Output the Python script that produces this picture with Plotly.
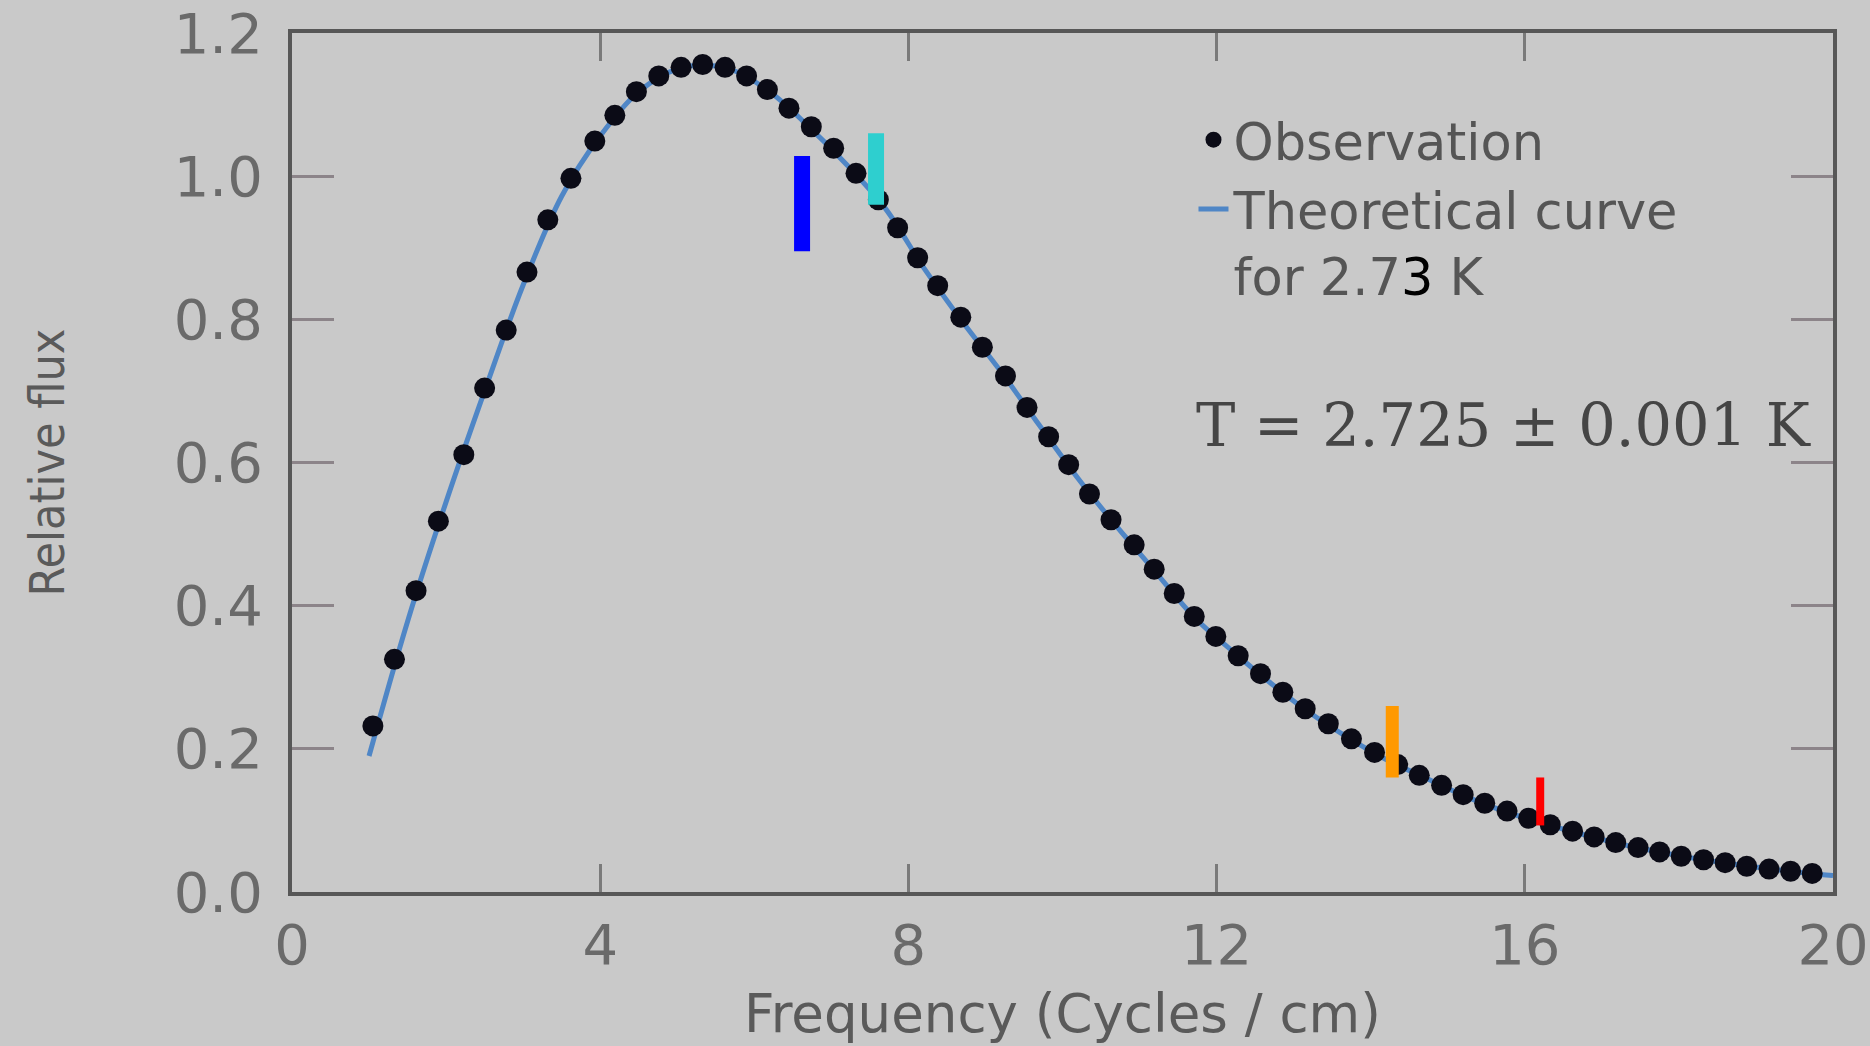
import plotly.graph_objects as go

# Observed relative flux of the cosmic background vs frequency (cycles / cm)
obs_freq = [1.05, 1.33, 1.61, 1.90, 2.23, 2.50, 2.78, 3.05, 3.32, 3.62, 3.93, 4.19,
            4.47, 4.76, 5.05, 5.33, 5.62, 5.90, 6.17, 6.45, 6.74, 7.03, 7.32, 7.61,
            7.86, 8.12, 8.38, 8.68, 8.96, 9.26, 9.54, 9.82, 10.08, 10.35, 10.63, 10.93,
            11.19, 11.45, 11.71, 11.99, 12.28, 12.57, 12.86, 13.15, 13.45, 13.75, 14.05,
            14.35, 14.63, 14.92, 15.20, 15.48, 15.77, 16.05, 16.33, 16.62, 16.90, 17.18,
            17.47, 17.75, 18.03, 18.32, 18.60, 18.88, 19.17, 19.45, 19.73]
obs_flux = [0.232, 0.325, 0.421, 0.518, 0.611, 0.704, 0.785, 0.866, 0.939, 0.997, 1.049, 1.085,
            1.118, 1.140, 1.152, 1.156, 1.152, 1.140, 1.121, 1.095, 1.069, 1.039, 1.004, 0.967,
            0.928, 0.886, 0.847, 0.803, 0.761, 0.721, 0.677, 0.636, 0.597, 0.556, 0.520, 0.485,
            0.451, 0.417, 0.385, 0.357, 0.330, 0.305, 0.279, 0.256, 0.235, 0.214, 0.195,
            0.178, 0.163, 0.149, 0.136, 0.124, 0.113, 0.103, 0.094, 0.085, 0.077, 0.069,
            0.062, 0.056, 0.050, 0.045, 0.041, 0.036, 0.032, 0.029, 0.026]

# Theoretical black-body curve for 2.73 K
theory_freq = [1.0, 1.5, 2.0, 2.5, 3.0, 3.5, 4.0, 4.5, 5.0, 5.35, 5.7, 6.2, 6.7, 7.2, 7.7,
               8.2, 8.7, 9.2, 9.7, 10.2, 10.7, 11.2, 11.7, 12.2, 12.7, 13.2, 13.7, 14.2,
               14.7, 15.2, 15.7, 16.2, 16.7, 17.2, 17.7, 18.2, 18.7, 19.2, 19.7, 20.0]
theory_flux = [0.19, 0.378, 0.545, 0.700, 0.848, 0.972, 1.056, 1.118, 1.150, 1.155, 1.149,
               1.118, 1.070, 1.016, 0.955, 0.872, 0.797, 0.727, 0.652, 0.578, 0.511, 0.448,
               0.385, 0.337, 0.292, 0.251, 0.216, 0.185, 0.160, 0.135, 0.114, 0.097, 0.082,
               0.068, 0.057, 0.047, 0.039, 0.032, 0.026, 0.023]

# Highlight bars placed along the curve
bar_freq = [6.62, 7.58, 14.28, 16.2]
bar_low = [0.895, 0.960, 0.160, 0.093]
bar_high = [1.028, 1.060, 0.260, 0.160]
bar_colors = ["#0000ff", "#2ecfcf", "#ff9900", "#ff0000"]
bar_widths = [16, 16, 13, 8]

x_ticks = [0, 4, 8, 12, 16, 20]
y_ticks = [0.0, 0.2, 0.4, 0.6, 0.8, 1.0, 1.2]

BG = "#c9c9c9"
FRAME = "#575757"
SANS = "DejaVu Sans, Verdana, sans-serif"

fig = go.Figure()

fig.add_trace(go.Scatter(
    x=theory_freq, y=theory_flux, mode="lines", line_shape="spline",
    line=dict(color="#4f86c6", width=5),
    name="Theoretical curve<br>for 2.7<span style='color:#000000'>3</span> K",
    legendrank=2,
))

fig.add_trace(go.Scatter(
    x=obs_freq, y=obs_flux, mode="markers",
    marker=dict(color="#0b0b16", size=21),
    name="Observation", legendrank=1,
))

for fx, lo, hi, col, w in zip(bar_freq, bar_low, bar_high, bar_colors, bar_widths):
    fig.add_trace(go.Scatter(
        x=[fx, fx], y=[lo, hi], mode="lines",
        line=dict(color=col, width=w), showlegend=False, hoverinfo="skip",
    ))

fig.add_annotation(
    x=15.72, y=0.651, xref="x", yref="y", showarrow=False,
    text="T = 2.725 ± 0.001 K",
    font=dict(family="DejaVu Serif, Liberation Serif, serif", size=59, color="#454545"),
)

fig.update_layout(
    width=1870, height=1046,
    margin=dict(l=292, r=37, t=33, b=154),
    paper_bgcolor=BG, plot_bgcolor=BG,
    showlegend=True,
    legend=dict(
        x=0.585, y=0.922, xanchor="left", yanchor="top",
        bgcolor="rgba(0,0,0,0)", valign="top",
        font=dict(family=SANS, size=51, color="#555555"),
        tracegroupgap=0,
    ),
)

fig.update_xaxes(
    range=[0, 20], tickvals=x_ticks, ticktext=[str(v) for v in x_ticks],
    automargin=False,
    showline=True, linecolor=FRAME, linewidth=4, mirror="ticks",
    ticks="inside", ticklen=28, tickwidth=3, tickcolor="#7a7a7a",
    showgrid=False, zeroline=False,
    tickfont=dict(family=SANS, size=56, color="#6a6a6a"),
    ticklabelstandoff=1,
    title=dict(text="Frequency (Cycles / cm)", standoff=20,
               font=dict(family=SANS, size=53, color="#5a5a5a")),
)

fig.update_yaxes(
    range=[0, 1.2], tickvals=y_ticks, ticktext=[f"{v:.1f}" for v in y_ticks],
    automargin=False,
    showline=True, linecolor=FRAME, linewidth=4, mirror="ticks",
    ticks="inside", ticklen=42, tickwidth=3, tickcolor="#8c8489",
    showgrid=False, zeroline=False,
    tickfont=dict(family=SANS, size=56, color="#6a6a6a"),
    ticklabelstandoff=14,
    title=dict(text="Relative flux", standoff=95,
               font=dict(family="DejaVu Sans Condensed, sans-serif",
                         size=48, color="#5a5a5a")),
)

fig.write_html("out.html")
